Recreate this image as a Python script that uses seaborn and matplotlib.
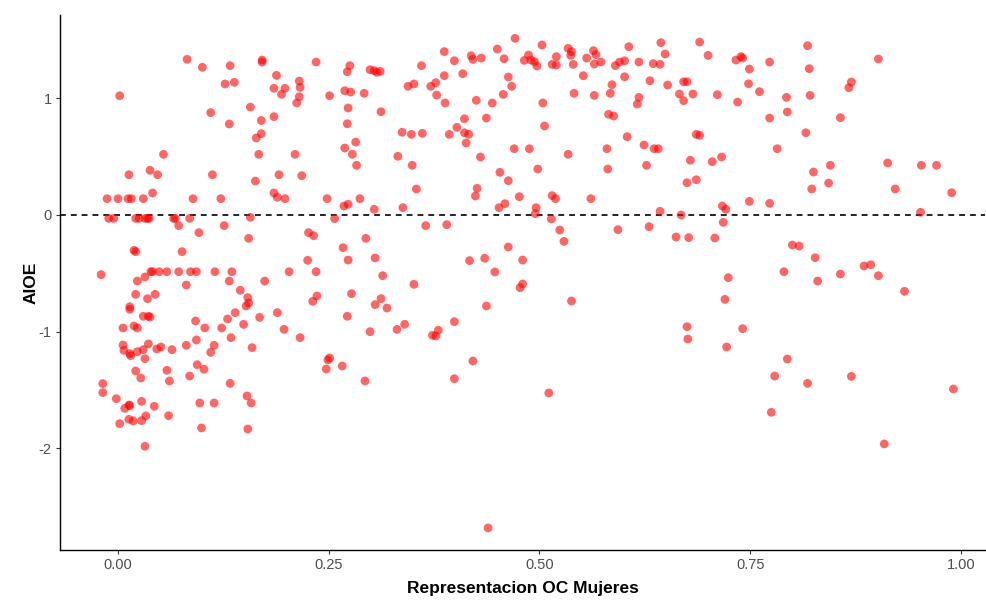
# ============================================================
# IMPORT LIBRARIES
# ============================================================

import numpy as np
import pandas as pd
import matplotlib
matplotlib.use("Agg")
import matplotlib.pyplot as plt
import seaborn as sns

# ============================================================
# DATA
# ============================================================

X_LABEL = "Representacion OC Mujeres"
Y_LABEL = "AIOE"

X_TICKS = [0.00, 0.25, 0.50, 0.75, 1.00]
X_TICK_LABELS = ["0.00", "0.25", "0.50", "0.75", "1.00"]
Y_TICKS = [-2, -1, 0, 1]
Y_TICK_LABELS = ["-2", "-1", "0", "1"]

# upper left block
oc_upper_left = [0.082, 0.100, 0.133, 0.171, 0.171, 0.188, 0.127, 0.138, 0.185, 0.198,
                 0.194, 0.215, 0.216, 0.215, 0.212, 0.002, 0.157, 0.110, 0.132, 0.170,
                 0.185, 0.170, 0.164, 0.054, 0.167, 0.210, 0.013, 0.038, 0.047, 0.112,
                 0.191, 0.218, 0.163, 0.041, 0.185, 0.189, 0.198, -0.013, 0.000, 0.012,
                 0.016, 0.030, 0.089, 0.122]
aioe_upper_left = [1.334, 1.266, 1.280, 1.328, 1.310, 1.197, 1.123, 1.137, 1.086, 1.086,
                   1.034, 1.148, 1.094, 1.014, 0.960, 1.022, 0.925, 0.877, 0.780, 0.810,
                   0.843, 0.697, 0.660, 0.520, 0.520, 0.520, 0.345, 0.383, 0.345, 0.345,
                   0.345, 0.337, 0.291, 0.189, 0.189, 0.152, 0.140, 0.140, 0.140, 0.140,
                   0.140, 0.140, 0.140, 0.140]

# upper middle block
oc_upper_mid = [0.235, 0.275, 0.272, 0.299, 0.304, 0.307, 0.311, 0.360, 0.387, 0.399,
                0.419, 0.421, 0.431, 0.450, 0.458, 0.471, 0.482, 0.487, 0.490, 0.494,
                0.497, 0.503, 0.251, 0.269, 0.276, 0.292, 0.273, 0.312, 0.272, 0.344,
                0.351, 0.371, 0.377, 0.387, 0.409, 0.378, 0.388, 0.425, 0.444, 0.463,
                0.467, 0.457, 0.411, 0.437, 0.402, 0.393, 0.411, 0.416, 0.413, 0.337,
                0.348, 0.361, 0.282, 0.269, 0.278, 0.283, 0.332, 0.349, 0.354, 0.430,
                0.470, 0.488, 0.498, 0.453, 0.463, 0.426, 0.424, 0.476, 0.459, 0.452,
                0.496, 0.248, 0.268, 0.273, 0.287, 0.304, 0.338]
aioe_upper_mid = [1.311, 1.280, 1.228, 1.245, 1.237, 1.223, 1.231, 1.280, 1.400, 1.322,
                  1.365, 1.334, 1.345, 1.422, 1.339, 1.514, 1.325, 1.371, 1.328, 1.314,
                  1.277, 1.457, 1.022, 1.065, 1.054, 1.043, 0.917, 0.885, 0.782, 1.103,
                  1.123, 1.103, 1.134, 1.194, 1.211, 1.028, 0.960, 0.983, 0.960, 1.183,
                  1.103, 1.034, 0.825, 0.831, 0.751, 0.691, 0.705, 0.691, 0.617, 0.709,
                  0.691, 0.700, 0.625, 0.574, 0.520, 0.426, 0.503, 0.426, 0.223, 0.497,
                  0.568, 0.568, 0.394, 0.366, 0.294, 0.229, 0.163, 0.157, 0.097, 0.063,
                  0.063, 0.140, 0.077, 0.092, 0.140, 0.049, 0.063]

# upper right block
oc_upper_right = [0.534, 0.538, 0.537, 0.520, 0.515, 0.520, 0.540, 0.556, 0.564, 0.567,
                  0.565, 0.573, 0.606, 0.590, 0.595, 0.601, 0.618, 0.644, 0.649, 0.635,
                  0.643, 0.690, 0.700, 0.733, 0.739, 0.741, 0.773, 0.749, 0.552, 0.601,
                  0.586, 0.541, 0.565, 0.584, 0.504, 0.631, 0.652, 0.671, 0.675, 0.618,
                  0.616, 0.666, 0.671, 0.682, 0.711, 0.735, 0.748, 0.761, 0.773, 0.506,
                  0.582, 0.588, 0.604, 0.580, 0.624, 0.636, 0.641, 0.686, 0.690, 0.782,
                  0.534, 0.581, 0.627, 0.679, 0.705, 0.716, 0.675, 0.686, 0.515, 0.519,
                  0.561, 0.643, 0.717, 0.721, 0.749, 0.773,
                  0.818, 0.902, 0.820, 0.870, 0.867, 0.793, 0.821, 0.794, 0.857, 0.816,
                  0.845, 0.825, 0.843, 0.823, 0.913, 0.953, 0.971, 0.922, 0.989, 0.952]
aioe_upper_right = [1.428, 1.400, 1.368, 1.357, 1.291, 1.285, 1.291, 1.345, 1.408, 1.374,
                    1.294, 1.311, 1.442, 1.280, 1.311, 1.322, 1.311, 1.477, 1.380, 1.297,
                    1.291, 1.482, 1.368, 1.328, 1.357, 1.345, 1.311, 1.251, 1.194, 1.185,
                    1.117, 1.043, 1.025, 1.043, 0.960, 1.151, 1.114, 1.142, 1.142, 1.008,
                    0.951, 1.037, 0.980, 1.037, 1.031, 0.968, 1.125, 1.057, 0.831, 0.763,
                    0.863, 0.848, 0.671, 0.568, 0.600, 0.568, 0.568, 0.691, 0.683, 0.568,
                    0.520, 0.394, 0.426, 0.469, 0.457, 0.497, 0.277, 0.302, 0.166, 0.140,
                    0.140, 0.032, 0.077, 0.049, 0.117, 0.100,
                    1.451, 1.337, 1.254, 1.140, 1.091, 1.008, 1.025, 0.883, 0.834, 0.705,
                    0.426, 0.368, 0.274, 0.223, 0.446, 0.426, 0.426, 0.223, 0.191, 0.023]

# lower left block
oc_lower_left = [-0.011, -0.005, 0.021, 0.025, 0.032, 0.035, 0.037, 0.066, 0.068, 0.085,
                 0.072, 0.096, 0.126, 0.157, 0.155, 0.019, 0.021, 0.076, -0.020, 0.023,
                 0.032, 0.039, 0.041, 0.049, 0.058, 0.072, 0.086, 0.093, 0.115, 0.135,
                 0.203, 0.132, 0.174, 0.081, 0.145, 0.021, 0.044, 0.035, 0.154, 0.155,
                 0.152, 0.014, 0.014, 0.030, 0.036, 0.038, 0.139, 0.189, 0.168, 0.092,
                 0.130, 0.006, 0.019, 0.023, 0.103, 0.123, 0.149, 0.197, 0.216, 0.006,
                 0.007, 0.014, 0.015, 0.032, 0.023, 0.030, 0.036, 0.046, 0.051, 0.064,
                 0.081, 0.093, 0.114, 0.110, 0.134, 0.159, 0.021, 0.027, 0.058, 0.061,
                 0.085, 0.094, 0.102, -0.018, 0.133,
                 -0.018, -0.002, 0.008, 0.013, 0.014, 0.028, 0.043, 0.002, 0.013, 0.018,
                 0.028, 0.033, 0.060, 0.032, 0.097, 0.114, 0.099, 0.153, 0.158, 0.154]
aioe_lower_left = [-0.029, -0.029, -0.029, -0.029, -0.029, -0.029, -0.029, -0.029, -0.029, -0.029,
                   -0.091, -0.151, -0.091, -0.020, -0.200, -0.303, -0.314, -0.314, -0.511, -0.566,
                   -0.531, -0.486, -0.486, -0.486, -0.486, -0.486, -0.486, -0.486, -0.486, -0.486,
                   -0.486, -0.566, -0.566, -0.600, -0.645, -0.680, -0.680, -0.717, -0.708, -0.754,
                   -0.780, -0.786, -0.808, -0.868, -0.868, -0.874, -0.837, -0.837, -0.877, -0.908,
                   -0.891, -0.968, -0.951, -0.968, -0.968, -0.968, -0.937, -0.980, -1.051, -1.114,
                   -1.160, -1.188, -1.205, -1.231, -1.171, -1.154, -1.105, -1.148, -1.131, -1.154,
                   -1.117, -1.071, -1.117, -1.177, -1.051, -1.137, -1.337, -1.397, -1.331, -1.422,
                   -1.380, -1.283, -1.322, -1.445, -1.443,
                   -1.522, -1.574, -1.657, -1.628, -1.634, -1.597, -1.640, -1.788, -1.751, -1.765,
                   -1.762, -1.722, -1.720, -1.982, -1.611, -1.611, -1.825, -1.551, -1.611, -1.834]

# lower middle and right block
oc_lower_right = [0.495, 0.257, 0.365, 0.390, 0.226, 0.232, 0.294, 0.267, 0.463, 0.225,
                  0.273, 0.305, 0.417, 0.435, 0.480, 0.235, 0.314, 0.447, 0.351, 0.480,
                  0.477, 0.236, 0.231, 0.277, 0.312, 0.305, 0.319, 0.437, 0.272, 0.299,
                  0.331, 0.340, 0.373, 0.377, 0.380, 0.399, 0.249, 0.251, 0.247, 0.266,
                  0.293, 0.421, 0.399,
                  0.514, 0.524, 0.529, 0.538, 0.593, 0.630, 0.668, 0.662, 0.677, 0.708,
                  0.718, 0.724, 0.720, 0.675, 0.676, 0.741, 0.722, 0.779,
                  0.800, 0.808, 0.827, 0.790, 0.830, 0.857, 0.885, 0.893, 0.902, 0.933,
                  0.794, 0.818, 0.870,
                  0.439, 0.511, 0.775, 0.991, 0.909]
aioe_lower_right = [0.011, -0.031, -0.091, -0.083, -0.151, -0.177, -0.200, -0.280, -0.274, -0.388,
                    -0.386, -0.368, -0.391, -0.371, -0.386, -0.486, -0.520, -0.488, -0.594, -0.591,
                    -0.623, -0.694, -0.740, -0.674, -0.717, -0.768, -0.797, -0.780, -0.868, -1.000,
                    -0.980, -0.937, -1.031, -1.037, -0.988, -0.914, -1.242, -1.225, -1.320, -1.294,
                    -1.422, -1.251, -1.403,
                    -0.034, -0.129, -0.226, -0.737, -0.126, -0.100, 0.000, -0.189, -0.194, -0.197,
                    -0.063, -0.537, -0.723, -0.957, -1.063, -0.974, -1.131, -1.380,
                    -0.257, -0.266, -0.366, -0.486, -0.566, -0.506, -0.437, -0.426, -0.520, -0.654,
                    -1.234, -1.443, -1.383,
                    -2.682, -1.525, -1.691, -1.491, -1.962]

# ============================================================
# BUILD DATAFRAME
# ============================================================

df = pd.DataFrame({
    "oc": oc_upper_left + oc_upper_mid + oc_upper_right + oc_lower_left + oc_lower_right,
    "aioe": aioe_upper_left + aioe_upper_mid + aioe_upper_right + aioe_lower_left + aioe_lower_right,
})

# ============================================================
# THEME
# ============================================================

sns.set_theme(style="white")
plt.rcParams["font.family"] = ["Liberation Sans", "DejaVu Sans"]

# ============================================================
# PLOT
# ============================================================

fig = plt.figure(figsize=(9.87, 6.02), dpi=100)
ax = fig.add_axes([60 / 987, 52 / 602, 925 / 987, 535 / 602])

ax.axhline(0, color="black", linestyle=(0, (3.5, 3)), linewidth=1.2, zorder=1)

sns.scatterplot(
    data=df,
    x="oc",
    y="aioe",
    color="red",
    alpha=0.6,
    s=40,
    edgecolor="none",
    ax=ax,
    zorder=2
)

ax.set_xlim(-0.0688, 1.0285)
ax.set_ylim(-2.871, 1.714)

ax.set_xticks(X_TICKS)
ax.set_xticklabels(X_TICK_LABELS)
ax.set_yticks(Y_TICKS)
ax.set_yticklabels(Y_TICK_LABELS)

ax.tick_params(axis="both", which="major", length=3, width=0.8,
               color="#333333", labelcolor="#4D4D4D", labelsize=10.5,
               direction="out", bottom=True, left=True, pad=3)

ax.set_xlabel(X_LABEL, fontsize=12.5, fontweight="bold", color="black", labelpad=6)
ax.set_ylabel(Y_LABEL, fontsize=12.5, fontweight="bold", color="black", labelpad=0)

for side in ["top", "right"]:
    ax.spines[side].set_visible(False)
for side in ["left", "bottom"]:
    ax.spines[side].set_color("black")
    ax.spines[side].set_linewidth(1.0)

ax.grid(False)

fig.savefig("out.png", dpi=100)
